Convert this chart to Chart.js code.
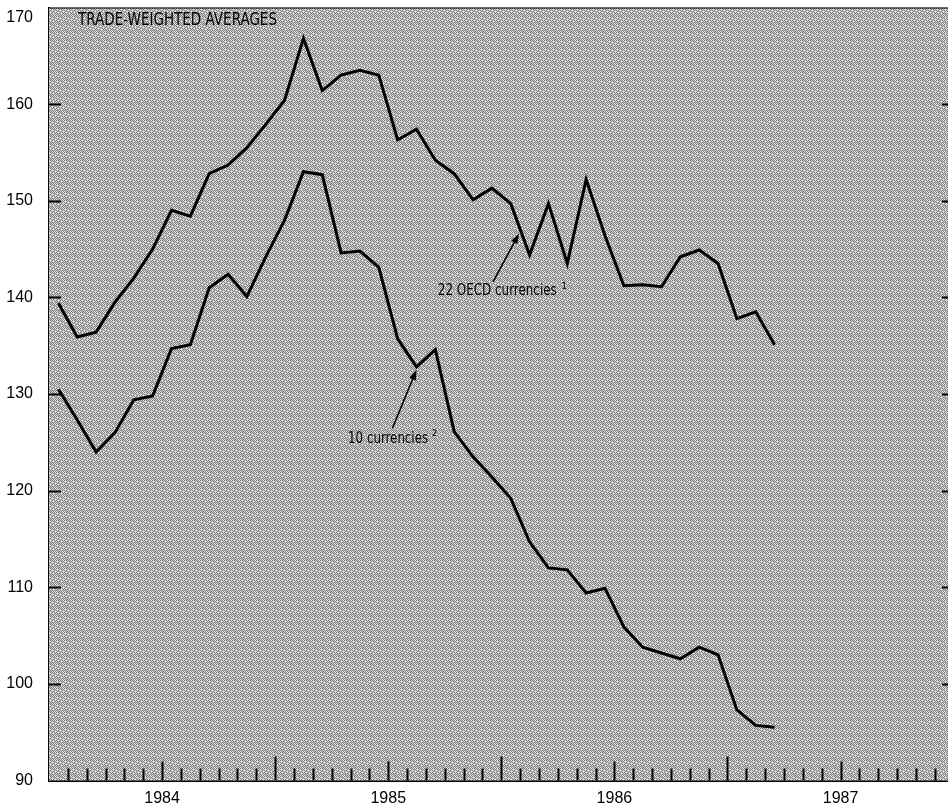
<!DOCTYPE html>
<html>
<head>
<meta charset="utf-8">
<script src="https://cdn.jsdelivr.net/npm/chart.js@4.4.1/dist/chart.umd.min.js"></script>
<style>
  html, body { margin: 0; padding: 0; background: #fff; overflow: hidden; }
  #wrap { width: 948px; height: 804px; }
</style>
</head>
<body>
<div id="wrap"><canvas id="chart" width="948" height="804"></canvas></div>
<script>
/* ================= DATA ================= */
// monthly values, Jan 1984 .. Mar 1987 (index 0 = Jan 1984)
const startYear = 1984;
const yearLabels = ["1984", "1985", "1986", "1987"];

const oecd22 = [
  139.4, 135.9, 136.4, 139.5, 142.0, 145.0, 149.0, 148.4, 152.8, 153.7, 155.5, 157.9,
  160.4, 166.8, 161.4, 163.0, 163.5, 163.0, 156.3, 157.4, 154.2, 152.8, 150.1, 151.3,
  149.7, 144.4, 149.7, 143.5, 152.2, 146.4, 141.2, 141.3, 141.1, 144.2, 144.9, 143.5,
  137.8, 138.5, 135.1
];

const ten = [
  130.5, 127.3, 124.0, 126.0, 129.4, 129.8, 134.7, 135.1, 141.0, 142.4, 140.1, 144.2,
  148.0, 153.0, 152.7, 144.6, 144.8, 143.1, 135.7, 132.8, 134.6, 126.1, 123.5, 121.4,
  119.2, 114.7, 112.0, 111.8, 109.4, 109.9, 105.9, 103.8, 103.2, 102.6, 103.8, 103.0,
  97.3, 95.7, 95.5
];

const yMin = 90, yMax = 170, yStep = 10;

const titleText = "TRADE-WEIGHTED AVERAGES";
const oecdText = "22 OECD currencies";
const tenText = "10 currencies";

/* ================= HELPERS ================= */
const NARROW = '"Liberation Sans Narrow", "DejaVu Sans Condensed", "Liberation Sans", sans-serif';
const PLAIN = '"Liberation Sans", Arial, sans-serif';
const toPoints = arr => arr.map((v, i) => ({ x: i + 0.5, y: v }));

// halftone-ish screen for the plot background
function makeScreen(ctx) {
  const tile = [
    "DLDLDLDW",
    "LWLDLDLD",
    "DLDLWLDL",
    "LDLDLDLW",
    "DLWLDLDL",
    "LDLDLWLD",
    "DLDLDLDL",
    "WDLDLDWD"
  ];
  const colors = { D: "#808080", L: "#cacaca", W: "#f4f4f4" };
  const c = document.createElement("canvas");
  c.width = 8; c.height = 8;
  const g = c.getContext("2d");
  tile.forEach((row, y) => {
    [...row].forEach((ch, x) => {
      g.fillStyle = colors[ch];
      g.fillRect(x, y, 1, 1);
    });
  });
  return ctx.createPattern(c, "repeat");
}

function arrow(ctx, x1, y1, x2, y2) {
  const ang = Math.atan2(y2 - y1, x2 - x1);
  const len = 10, w = 3.5;
  ctx.beginPath();
  ctx.moveTo(x1, y1);
  ctx.lineTo(x2 - Math.cos(ang) * len * 0.8, y2 - Math.sin(ang) * len * 0.8);
  ctx.lineWidth = 1.6;
  ctx.strokeStyle = "#000";
  ctx.stroke();
  ctx.beginPath();
  ctx.moveTo(x2, y2);
  ctx.lineTo(x2 - Math.cos(ang) * len - Math.sin(ang) * w, y2 - Math.sin(ang) * len + Math.cos(ang) * w);
  ctx.lineTo(x2 - Math.cos(ang) * len + Math.sin(ang) * w, y2 - Math.sin(ang) * len - Math.cos(ang) * w);
  ctx.closePath();
  ctx.fillStyle = "#000";
  ctx.fill();
}

function squeezedText(ctx, text, x, y, size, targetW) {
  ctx.save();
  ctx.font = size + "px " + NARROW;
  const w = ctx.measureText(text).width;
  const sx = targetW ? Math.min(1, targetW / w) : 1;
  ctx.translate(x, y);
  ctx.scale(sx, 1);
  ctx.fillStyle = "#000";
  ctx.textBaseline = "middle";
  ctx.textAlign = "left";
  ctx.fillText(text, 0, 0);
  ctx.restore();
  return w * sx;
}

/* ================= PLUGIN ================= */
const decor = {
  id: "decor",
  beforeDatasetsDraw(chart) {
    const { ctx, chartArea: a } = chart;
    ctx.save();
    ctx.fillStyle = makeScreen(ctx);
    ctx.fillRect(a.left, a.top, a.right - a.left, a.bottom - a.top);
    ctx.restore();
  },
  afterDatasetsDraw(chart) {
    const { ctx, chartArea: a, scales } = chart;
    const xs = scales.x, ys = scales.y;
    ctx.save();
    ctx.strokeStyle = "#000";
    ctx.lineWidth = 2;

    // month ticks, pointing up from the bottom axis
    const months = yearLabels.length * 12;
    for (let m = 1; m < months; m++) {
      const px = Math.round(xs.getPixelForValue(m)) + 0.5;
      if (px > a.right) break;
      const len = m % 12 === 0 ? 24 : (m % 12 === 6 ? 19 : 12);
      ctx.beginPath();
      ctx.moveTo(px, a.bottom);
      ctx.lineTo(px, a.bottom - len);
      ctx.stroke();
    }

    // value ticks inside both vertical edges
    for (let v = yMin + yStep; v < yMax; v += yStep) {
      const py = Math.round(ys.getPixelForValue(v)) + 0.5;
      ctx.beginPath();
      ctx.moveTo(a.left, py);
      ctx.lineTo(a.left + 12, py);
      ctx.moveTo(a.right, py);
      ctx.lineTo(a.right - 6, py);
      ctx.stroke();
    }

    // top frame
    ctx.lineWidth = 1.2;
    ctx.beginPath();
    ctx.moveTo(a.left, a.top + 0.5);
    ctx.lineTo(a.right, a.top + 0.5);
    ctx.stroke();

    // top value label sits just below the frame line
    ctx.fillStyle = "#000";
    ctx.font = "16px " + PLAIN;
    ctx.textAlign = "right";
    ctx.textBaseline = "middle";
    ctx.fillText(String(yMax), a.left - 16, ys.getPixelForValue(yMax) + 10);

    // title inside the plot
    squeezedText(ctx, titleText, a.left + 29, a.top + 13, 18, 199);

    // 22 OECD label + arrow
    const ox = xs.getPixelForValue(20.63), oy = ys.getPixelForValue(140.6);
    const ow = squeezedText(ctx, oecdText, ox, oy, 15, 119);
    ctx.font = "9px " + NARROW;
    ctx.textAlign = "left";
    ctx.fillText("1", ox + ow + 5, oy - 5);
    arrow(ctx, xs.getPixelForValue(23.56), ys.getPixelForValue(141.6),
               xs.getPixelForValue(24.94), ys.getPixelForValue(146.6));

    // 10 currencies label + arrow
    const tx = xs.getPixelForValue(15.87), ty = ys.getPixelForValue(125.3);
    const tw = squeezedText(ctx, tenText, tx, ty, 15, 80);
    ctx.font = "9px " + NARROW;
    ctx.textAlign = "left";
    ctx.fillText("2", tx + tw + 4, ty - 6);
    arrow(ctx, xs.getPixelForValue(18.22), ys.getPixelForValue(126.45),
               xs.getPixelForValue(19.5), ys.getPixelForValue(132.5));

    ctx.restore();
  }
};

/* ================= CHART ================= */
const lineStyle = {
  borderColor: "#000",
  borderWidth: 3,
  pointRadius: 0,
  tension: 0,
  borderJoinStyle: "miter",
  fill: false
};

new Chart(document.getElementById("chart"), {
  type: "line",
  data: {
    datasets: [
      { label: oecdText, data: toPoints(oecd22), ...lineStyle },
      { label: tenText, data: toPoints(ten), ...lineStyle }
    ]
  },
  options: {
    responsive: false,
    animation: false,
    devicePixelRatio: 1,
    layout: { padding: { top: 7.5, right: 0, left: 0, bottom: 0 } },
    plugins: { legend: { display: false }, tooltip: { enabled: false } },
    scales: {
      x: {
        type: "linear",
        min: 0,
        max: 47.7,
        grid: { display: false, drawTicks: false },
        border: { display: true, color: "#000", width: 2 },
        afterBuildTicks: scale => {
          scale.ticks = yearLabels.map((y, k) => ({ value: k * 12 + 6 }));
        },
        afterFit: scale => {
          scale.height = 23.5;
          scale.paddingLeft = 0;
          scale.paddingRight = 0;
        },
        ticks: {
          autoSkip: false,
          maxRotation: 0,
          padding: 8,
          color: "#000",
          font: { family: PLAIN, size: 16 },
          callback: (v) => yearLabels[Math.floor(v / 12)] ?? ""
        }
      },
      y: {
        min: yMin,
        max: yMax,
        grid: { display: false, drawTicks: false },
        border: { display: true, color: "#000", width: 2 },
        afterFit: scale => {
          scale.width = 49;
          scale.paddingTop = 0;
          scale.paddingBottom = 0;
        },
        ticks: {
          stepSize: yStep,
          padding: 16,
          color: "#000",
          font: { family: PLAIN, size: 16 },
          callback: v => (v === yMax ? "" : v)
        }
      }
    }
  },
  plugins: [decor]
});
</script>
</body>
</html>
